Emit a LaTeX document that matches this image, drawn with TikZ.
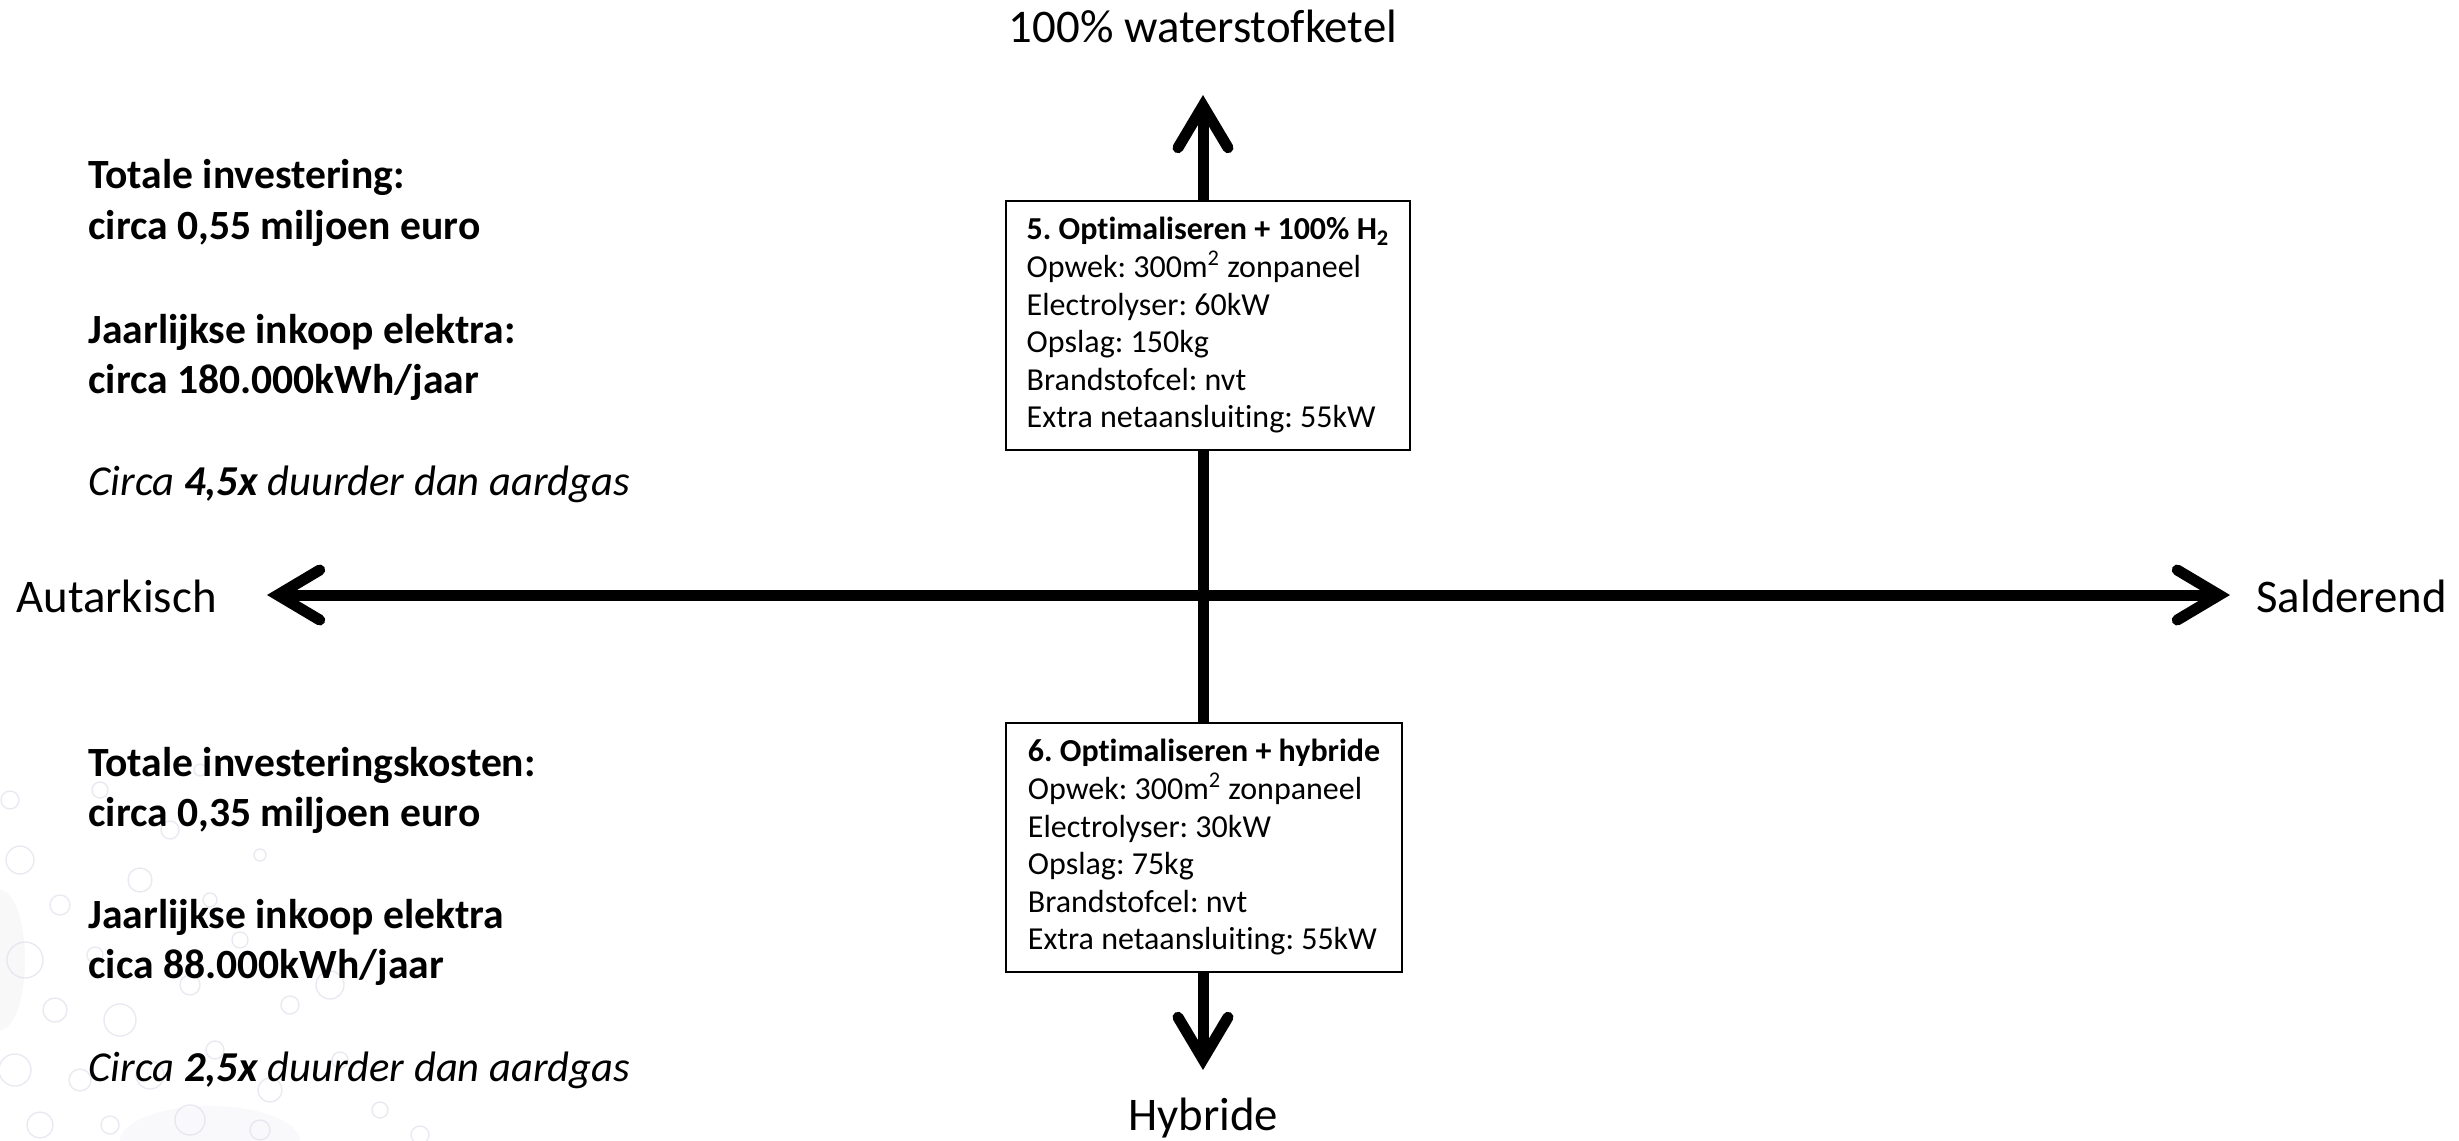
\documentclass[tikz,border=0pt]{standalone}
\usepackage{fontspec}
\setmainfont{Carlito}[Ligatures=NoCommon]
\usetikzlibrary{arrows.meta}
\frenchspacing
\begin{document}
\begin{tikzpicture}[x=0.5pt,y=-0.5pt,
  >={Straight Barb[length=21pt,width=25pt,line cap=round,line join=miter]},
  axisline/.style={line width=5.5pt,<->},
  box/.style={draw=black,line width=1pt,fill=white,align=left,inner xsep=10pt,
    minimum height=124.5pt,font=\fontsize{16}{18.8}\selectfont\frenchspacing},
  sidetext/.style={anchor=base west,inner sep=0pt,font=\fontsize{20.8}{25}\selectfont\bfseries},
  sidenote/.style={anchor=base west,inner sep=0pt,font=\fontsize{21.3}{25}\selectfont\itshape},
  axislabel/.style={inner sep=0pt,font=\fontsize{23.4}{28}\selectfont},
  bubble/.style={draw=blue!25!gray!35,line width=0.7pt,opacity=0.4}
]
\useasboundingbox (0,0) rectangle (2459,1141);
% faint bubbles in the lower left corner
\foreach \bx/\by/\br in {20/860/14, 60/905/10, 25/960/18, 95/955/8, 140/880/12, 170/830/9,
  210/900/7, 55/1010/12, 120/1020/16, 190/985/10, 240/940/8, 290/1005/9, 330/985/14,
  15/1070/16, 80/1080/11, 150/1075/14, 215/1050/9, 270/1090/12, 340/1060/8, 40/1125/13,
  110/1125/9, 190/1120/15, 260/1130/10, 380/1110/8, 300/915/6, 420/1135/9, 200/770/6,
  100/790/8, 10/800/9, 260/855/6}
  \draw[bubble] (\bx,\by) circle (\br);
\fill[blue!15!gray!20,opacity=0.25] (0,960) ellipse (25 and 70);
\fill[blue!15!gray!20,opacity=0.2] (210,1141) ellipse (90 and 35);

% axes
\coordinate (top) at (1203,95);
\coordinate (bottom) at (1203,1070);
\coordinate (left) at (267,595);
\coordinate (right) at (2230,595);
\draw[axisline] (left) -- (right);
\draw[axisline] (top) -- (bottom);

% axis labels
\node[axislabel,anchor=base] (lt) at (1203,42) {100\% waterstofketel};
\node[axislabel,anchor=base] (lb) at (1203,1130) {Hybride};
\node[axislabel,anchor=base west] (ll) at (16,612) {Autarkisch};
\node[axislabel,anchor=base west] (lr) at (2256,612) {Salderend};

% boxes
\node[box,minimum width=202pt,anchor=north west] (b5) at (1005,200)
  {\textbf{5. Optimaliseren + 100\% H\textsubscript{2}}\\
   Opwek: 300m\textsuperscript{2} zonpaneel\\
   Electrolyser: 60kW\\
   Opslag: 150kg\\
   Brandstofcel: nvt\\
   Extra netaansluiting: 55kW};
\node[box,minimum width=198pt,anchor=north west] (b6) at (1005,722)
  {\textbf{6. Optimaliseren + hybride}\\
   Opwek: 300m\textsuperscript{2} zonpaneel\\
   Electrolyser: 30kW\\
   Opslag: 75kg\\
   Brandstofcel: nvt\\
   Extra netaansluiting: 55kW};

% side texts, upper
\node[sidetext] (t1) at (88,188) {Totale investering:};
\node[sidetext] (t2) at (88,239) {circa 0,55 miljoen euro};
\node[sidetext] (t3) at (88,343) {Jaarlijkse inkoop elektra:};
\node[sidetext] (t4) at (88,393) {circa 180.000kWh/jaar};
\node[sidenote] (t5) at (88,495) {Circa \textbf{4,5x} duurder dan aardgas};
% side texts, lower
\node[sidetext] (t6) at (88,776) {Totale investeringskosten:};
\node[sidetext] (t7) at (88,826) {circa 0,35 miljoen euro};
\node[sidetext] (t8) at (88,928) {Jaarlijkse inkoop elektra};
\node[sidetext] (t9) at (88,978) {cica 88.000kWh/jaar};
\node[sidenote] (t10) at (88,1081) {Circa \textbf{2,5x} duurder dan aardgas};
\end{tikzpicture}
\end{document}
